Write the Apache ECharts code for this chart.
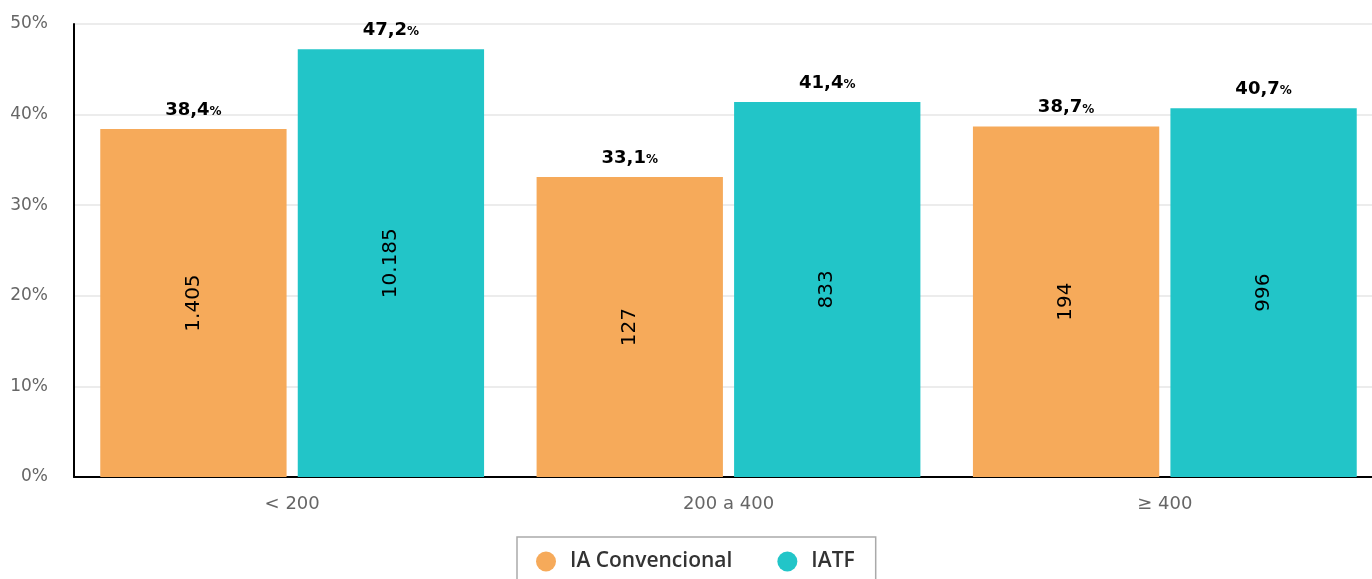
<!DOCTYPE html>
<html>
<head>
<meta charset="utf-8">
<script src="https://cdn.jsdelivr.net/npm/echarts@6/dist/echarts.min.js"></script>
<style>
	html, body { margin: 0; padding: 0; background: #fff; }
	#chart { width: 1372px; height: 579px; }
</style>
</head>
<body>
<div id="chart"></div>
<script>
// dados
var categorias = ['< 200', '200 a 400', '≥ 400'];
var seriesNomes = ['IA Convencional', 'IATF'];
var pctIA = [38.4, 33.1, 38.7];
var pctIATF = [47.2, 41.4, 40.7];
var nIA = ['1.405', '127', '194'];
var nIATF = ['10.185', '833', '996'];
var yTicks = [0, 10, 20, 30, 40, 50];

var cores = ['#f6aa5a', '#22c5c8'];

function fmtPct(v) {
	return '{v|' + v.toFixed(1).replace('.', ',') + '}{p|%}';
}

function serieBarra(nome, pct, n, cor, stack) {
	return {
		name: nome,
		type: 'bar',
		stack: stack,
		data: pct,
		barWidth: '42.7%',
		barGap: '6%',
		itemStyle: { color: cor },
		label: {
			show: true,
			position: 'inside',
			rotate: 90,
			fontFamily: 'DejaVu Sans',
			fontSize: 20,
			color: '#000',
			formatter: function(p) { return n[p.dataIndex]; }
		}
	};
}

// serie auxiliar (altura 0) so para o rotulo de % no topo
function serieTopo(nome, pct, cor, stack) {
	return {
		name: nome,
		type: 'bar',
		stack: stack,
		data: pct.map(function() { return 0; }),
		itemStyle: { color: cor },
		label: {
			show: true,
			position: 'top',
			distance: 10,
			formatter: function(p) { return fmtPct(pct[p.dataIndex]); },
			rich: {
				v: { fontFamily: 'DejaVu Sans', fontWeight: 'bold', fontSize: 18, color: '#000' },
				p: { fontFamily: 'DejaVu Sans', fontWeight: 'bold', fontSize: 12, color: '#000', padding: [4, 0, 0, 0] }
			}
		}
	};
}

var chart = echarts.init(document.getElementById('chart'));
chart.setOption({
	animation: false,
	grid: { left: 74, width: 1309, top: 24, bottom: 102, containLabel: false, outerBoundsMode: 'none' },
	legend: {
		data: seriesNomes,
		left: 517,
		top: 537,
		icon: 'circle',
		itemWidth: 38,
		itemHeight: 20,
		itemGap: 45,
		padding: [14, 21, 20, 19],
		borderColor: '#aaa',
		borderWidth: 1.5,
		textStyle: { fontFamily: 'Open Sans', fontWeight: 600, fontSize: 21, color: '#333' }
	},
	xAxis: {
		type: 'category',
		data: categorias,
		axisLine: { lineStyle: { color: '#000', width: 2 } },
		axisTick: { show: false },
		axisLabel: { fontFamily: 'DejaVu Sans', fontSize: 18, color: '#666', margin: 18 }
	},
	yAxis: {
		type: 'value',
		min: yTicks[0],
		max: yTicks[yTicks.length - 1],
		interval: 10,
		axisLine: { show: true, lineStyle: { color: '#000', width: 2 } },
		axisTick: { show: false },
		splitLine: { lineStyle: { color: '#e6e6e6', width: 1.5 } },
		axisLabel: { fontFamily: 'DejaVu Sans', fontSize: 17, color: '#666', margin: 26, formatter: '{value}%' }
	},
	series: [
		serieBarra(seriesNomes[0], pctIA, nIA, cores[0], 'a'),
		serieTopo(seriesNomes[0], pctIA, cores[0], 'a'),
		serieBarra(seriesNomes[1], pctIATF, nIATF, cores[1], 'b'),
		serieTopo(seriesNomes[1], pctIATF, cores[1], 'b')
	]
});
</script>
</body>
</html>
